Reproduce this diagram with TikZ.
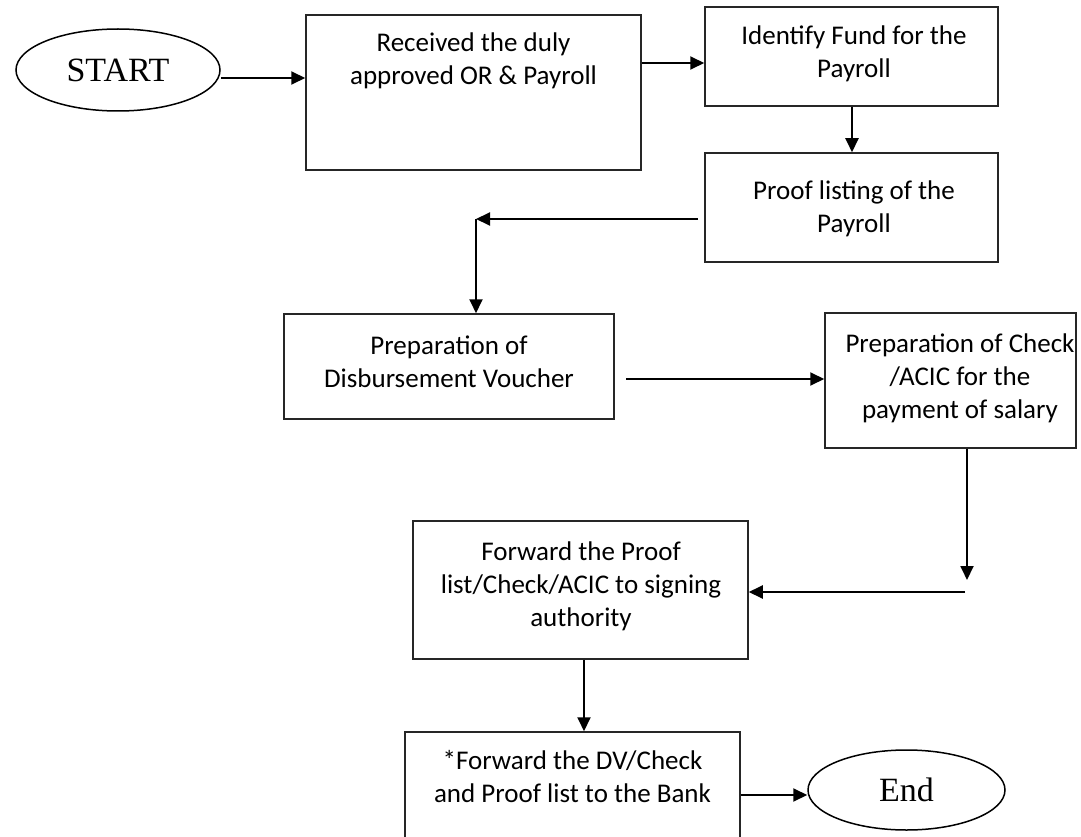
\documentclass[tikz,border=0pt]{standalone}
\usepackage{fontspec}
\setmainfont{Carlito}
\newfontfamily\tnr{Liberation Serif}
\usetikzlibrary{arrows.meta,shapes.geometric}
\begin{document}
\begin{tikzpicture}[x=1pt,y=-1pt,
  box/.style={draw=black!85,line width=1.5pt,rectangle,inner sep=0pt},
  oval/.style={draw=black,line width=1.5pt,ellipse,inner sep=0pt,font=\tnr\fontsize{34}{40}\selectfont},
  txt/.style={font=\fontsize{27}{33}\selectfont,align=center,inner sep=0pt,anchor=base},
  arr/.style={line width=1.9pt,-{Triangle[length=14pt,width=13pt]}},
  ]
\useasboundingbox (0,0) rectangle (1081,837);

% boxes
\node[oval,minimum width=204pt,minimum height=82pt] (start) at (118,70) {START};
\node[box,minimum width=335pt,minimum height=155pt] (rec) at (473.5,92.5) {};
\node[box,minimum width=293pt,minimum height=99pt] (idf) at (851.5,56.5) {};
\node[box,minimum width=293pt,minimum height=109pt] (prf) at (851.5,207.5) {};
\node[box,minimum width=330pt,minimum height=105pt] (dv) at (449,366.5) {};
\node[box,minimum width=251pt,minimum height=135pt] (chk) at (950.5,380.5) {};
\node[box,minimum width=335pt,minimum height=138pt] (fwd) at (580.5,590) {};
\node[box,minimum width=335pt,minimum height=130pt] (bank) at (572.5,797) {};
\node[oval,minimum width=197pt,minimum height=80pt] (end) at (906.5,790) {End};

% texts (anchor = baseline of last line)
\node[txt] (trec) at (473.5,85) {Received the duly\\approved OR \& Payroll};
\node[txt] (tidf) at (854,78) {Identify Fund for the\\Payroll};
\node[txt] (tprf) at (854,233) {Proof listing of the\\Payroll};
\node[txt] (tdv) at (449,387) {Preparation of\\Disbursement Voucher};
\node[txt] (tchk) at (960,418) {Preparation of Check\\/ACIC for the\\payment of salary};
\node[txt] (tfwd) at (581,626) {Forward the Proof\\list/Check/ACIC to signing\\authority};
\node[txt] (tbank) at (572.5,802) {*Forward the DV/Check\\and Proof list to the Bank};

% connector points
\coordinate (c0) at (221,78);
\coordinate (c6) at (673,63);
\coordinate (c7) at (852,130);
\coordinate (c1s) at (698,219);
\coordinate (c1) at (476,219);
\coordinate (c5) at (626,379);
\coordinate (c2) at (967,580);
\coordinate (c3) at (965,592);
\coordinate (c4) at (584,700);
\coordinate (c8) at (775,795);

% connectors
\draw[arr] (c0) -- (rec.west |- c0);
\draw[arr] (rec.east |- c6) -- (idf.west |- c6);
\draw[arr] (idf.south -| c7) -- (prf.north -| c7);
\draw[arr] (c1s) -- (c1);
\draw[arr] (c1) -- (dv.north -| c1);
\draw[arr] (c5) -- (chk.west |- c5);
\draw[arr] (chk.south -| c2) -- (c2);
\draw[arr] (c3) -- (fwd.east |- c3);
\draw[arr] (fwd.south -| c4) -- (bank.north -| c4);
\draw[arr] (bank.east |- c8) -- (end.west |- c8);
\end{tikzpicture}
\end{document}
